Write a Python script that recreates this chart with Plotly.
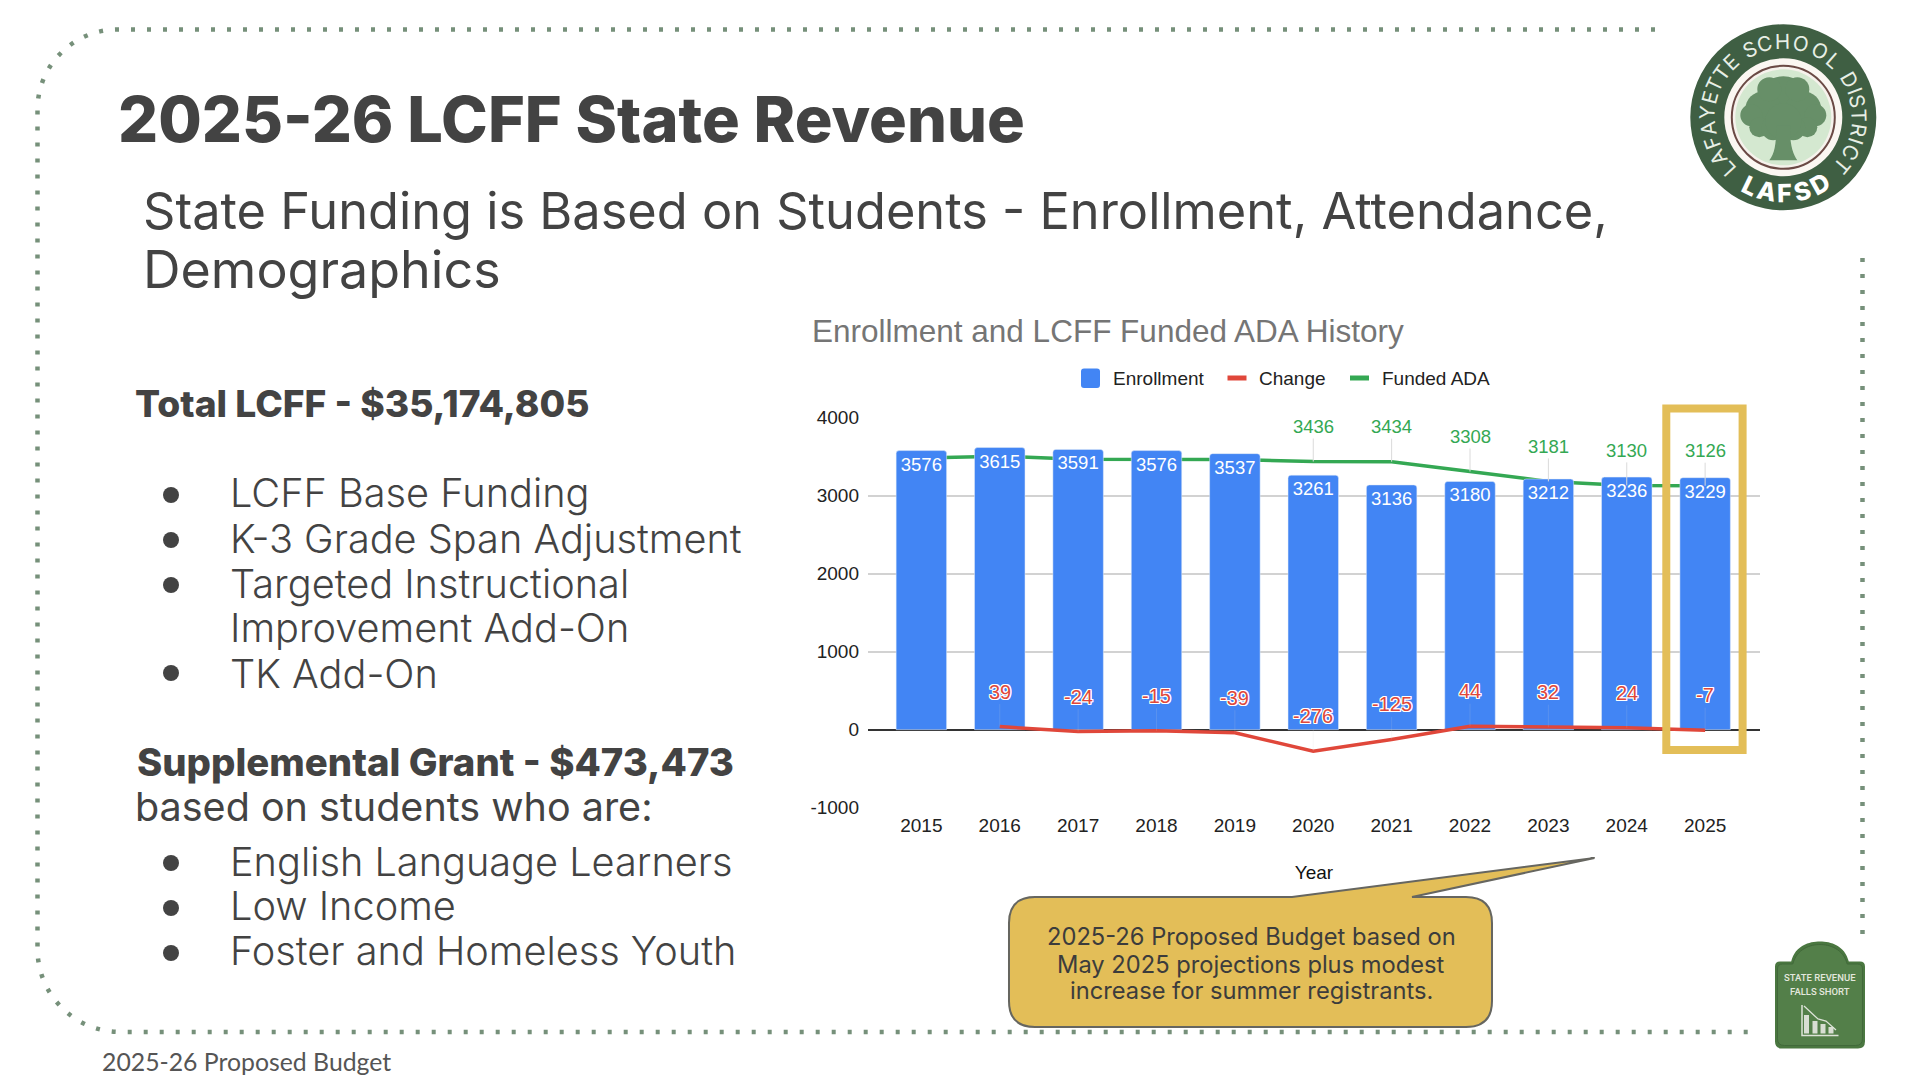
import math
import plotly.graph_objects as go

# ---------- data ----------
years = ["2015","2016","2017","2018","2019","2020","2021","2022","2023","2024","2025"]
enrollment = [3576,3615,3591,3576,3537,3261,3136,3180,3212,3236,3229]
change = [None,39,-24,-15,-39,-276,-125,44,32,24,-7]
funded_ada = [3480,3505,3465,3468,3462,3436,3434,3308,3181,3130,3126]
funded_label_years = ["2020","2021","2022","2023","2024","2025"]
y_ticks = [-1000,0,1000,2000,3000,4000]
y_tick_labels = ["-1000","0","1000","2000","3000","4000"]

W, H = 1920, 1080
def X(p): return p / W
def Y(p): return 1 - p / H

DARK = "#434343"
BLUE = "#4285F4"
RED = "#E0473A"
GREEN = "#34A853"
GOLD = "#E3BE58"
DOT = "#76907A"
LOGO = "#3F5F43"
SANS = "Liberation Sans"
BODY = "Inter"

annotations, shapes = [], []

def txt(x, y, s, size, color=DARK, family=BODY, anchor="left", weight=None, angle=0):
    f = dict(family=family, size=size, color=color)
    if weight: f["weight"] = weight
    annotations.append(dict(x=X(x), y=Y(y), xref="paper", yref="paper", text=s, showarrow=False,
                            xanchor=anchor, yanchor="middle", font=f, textangle=angle,
                            borderpad=0, borderwidth=0))

def path(cmds, fill=None, line=None, width=0, dash=None, layer="above"):
    out = []
    for c in cmds:
        if isinstance(c, str):
            out.append(c)
        else:
            out.append(" ".join(f"{X(c[i]):.5f},{Y(c[i+1]):.5f}" for i in range(0, len(c), 2)))
    ln = dict(width=width, color=line or "rgba(0,0,0,0)")
    if dash: ln["dash"] = dash
    d = dict(type="path", xref="paper", yref="paper", path=" ".join(out), line=ln, layer=layer)
    if fill: d["fillcolor"] = fill
    shapes.append(d)

def circle(cx, cy, r, fill=None, line=None, width=0):
    shapes.append(dict(type="circle", xref="paper", yref="paper", x0=X(cx-r), x1=X(cx+r),
                       y0=Y(cy+r), y1=Y(cy-r), fillcolor=fill or "rgba(0,0,0,0)",
                       line=dict(width=width, color=line or "rgba(0,0,0,0)")))

# ---------- dotted frame ----------
k = 0.5523
dash = "4px,12px"
lx, ty, by, r1, r2 = 37.5, 29.5, 1032, 80, 83
path(["M", (1655, ty), "L", (lx+r1, ty), "C", (lx+r1-k*r1, ty, lx, ty+r1-k*r1, lx, ty+r1),
      "L", (lx, by-r2), "C", (lx, by-r2+k*r2, lx+r2-k*r2, by, lx+r2, by), "L", (1756, by)],
     line=DOT, width=4.5, dash=dash, layer="below")
path(["M", (1862.5, 258), "L", (1862.5, 936)], line=DOT, width=4.5, dash=dash, layer="below")

# ---------- slide text ----------
txt(118, 119, "2025-26 LCFF State Revenue", 63, family="Inter", weight=800)
txt(143, 210.5, "State Funding is Based on Students - Enrollment, Attendance,", 50.5)
txt(143, 269, "Demographics", 52)
txt(135, 404, "Total LCFF - $35,174,805", 37.2, weight=800)
txt(137, 762, "Supplemental Grant - $473,473", 38.3, weight=800)
txt(135, 807, "based on students who are:", 39.5)
for yy, s in [(493.5,"LCFF Base Funding"),(539,"K-3 Grade Span Adjustment"),(584,"Targeted Instructional"),
              (628,"Improvement Add-On"),(673.5,"TK Add-On"),
              (862,"English Language Learners"),(906,"Low Income"),(951,"Foster and Homeless Youth")]:
    txt(230, yy, s, 39.7, weight=300)
for yy in [495, 540, 585, 673, 863, 908, 953]:
    circle(171, yy, 8, fill="#434343")
txt(101.5, 1061.5, "2025-26 Proposed Budget", 24.8, family="Lato", color="#555555")

# ---------- chart heading and legend ----------
txt(812, 331, "Enrollment and LCFF Funded ADA History", 31.5, color="#757575", family=SANS)
path(["M", (1084, 368.5), "L", (1097, 368.5), "Q", (1100, 368.5, 1100, 371.5), "L", (1100, 385),
      "Q", (1100, 388, 1097, 388), "L", (1084, 388), "Q", (1081, 388, 1081, 385), "L", (1081, 371.5),
      "Q", (1081, 368.5, 1084, 368.5), "Z"], fill=BLUE)
txt(1112.5, 378, "Enrollment", 19, color="#222222", family=SANS)
shapes.append(dict(type="rect", xref="paper", yref="paper", x0=X(1227.5), x1=X(1246.5), y0=Y(380.5), y1=Y(375.5),
                   fillcolor=RED, line=dict(width=0)))
txt(1259, 378, "Change", 19, color="#222222", family=SANS)
shapes.append(dict(type="rect", xref="paper", yref="paper", x0=X(1350), x1=X(1369), y0=Y(380.5), y1=Y(375.5),
                   fillcolor=GREEN, line=dict(width=0)))
txt(1381.5, 378, "Funded ADA", 19, color="#222222", family=SANS)

# ---------- highlight box ----------
shapes.append(dict(type="rect", xref="paper", yref="paper", x0=X(1666.3), x1=X(1742.6),
                   y0=Y(750), y1=Y(408.5), line=dict(color=GOLD, width=8)))

# ---------- callout ----------
L, R, T, B, r = 1009, 1492, 897, 1027, 26
path(["M", (L+r, T), "L", (1292, T), "L", (1594.5, 858), "L", (1412, T), "L", (R-r, T),
      "Q", (R, T, R, T+r), "L", (R, B-r), "Q", (R, B, R-r, B), "L", (L+r, B),
      "Q", (L, B, L, B-r), "L", (L, T+r), "Q", (L, T, L+r, T), "Z"],
     fill=GOLD, line="#666660", width=2)
for yy, s in [(936.5,"2025-26 Proposed Budget based on"),(964,"May 2025 projections plus modest"),
              (990.5,"increase for summer registrants.")]:
    txt(1251, yy, s, 23.7, anchor="center", color="#3C3C3C")

# ---------- logo ----------
cx, cy = 1783.3, 117.3
circle(cx, cy, 93, fill=LOGO)
circle(cx, cy, 59, fill="#FBF7F2")
circle(cx, cy, 51.5, fill="#F6F2EC", line="#6B4A45", width=2)
circle(cx, cy, 48, fill="#D4E8D0")
for ox, oy, rr in [(0,-14,27),(-20,-8,18),(20,-8,18),(-32,-2,11),(32,-2,11),(-14,-28,12),(14,-28,12),
                   (-24,10,10),(24,10,10),(-10,11,12),(10,11,12),(0,4,18)]:
    circle(cx+ox, cy+oy, rr, fill="#678F68")
path(["M", (cx-7, cy+8), "L", (cx+7, cy+8), "C", (cx+6, cy+28, cx+10, cy+37, cx+14, cy+43),
      "L", (cx-14, cy+43), "C", (cx-9, cy+37, cx-7, cy+28, cx-7, cy+8), "Z"], fill="#678F68")
ring = "LAFAYETTE SCHOOL DISTRICT"
wid = {"I":0.45, " ":0.6, "L":0.85, "T":0.9, "E":0.85, "F":0.85, "S":0.9, "O":1.3, "C":1.15, "H":1.1, "D":1.15, "A":1.1, "Y":1.0, "R":1.0}
tot = sum(wid[c] for c in ring)
a0, a1 = -138.0, 135.0
acc = 0.0
for c in ring:
    w_ = wid[c]
    th = a0 + (a1-a0) * (acc + w_/2) / tot
    acc += w_
    if c != " ":
        txt(cx + 76*math.sin(math.radians(th)), cy - 76*math.cos(math.radians(th)), c, 20.5,
            color="#E8EFE6", anchor="center", angle=th)
for c, ph in zip("LAFSD", [205.7, 192.5, 179, 165, 151]):
    txt(cx + 76*math.sin(math.radians(ph)), cy - 76*math.cos(math.radians(ph)), c, 25,
        color="#FFFFFF", anchor="center", weight=800, angle=ph-180)

# ---------- badge ----------
def badge(l, r, t, b, top, fill, line=None, width=0):
    m = (l+r)/2
    d = (r-l)*0.32
    path(["M", (l+5, t), "L", (m-d, t), "C", (m-d+4, top+4, m-d+18, top, m, top),
          "C", (m+d-18, top, m+d-4, top+4, m+d, t), "L", (r-5, t), "Q", (r, t, r, t+5),
          "L", (r, b-7), "Q", (r, b, r-7, b), "L", (l+7, b), "Q", (l, b, l, b-7), "L", (l, t+5),
          "Q", (l, t, l+5, t), "Z"], fill=fill, line=line, width=width)
badge(1775, 1865, 961.5, 1048.5, 941.5, "#4A7740")
badge(1777.5, 1862.5, 964, 1045.5, 944.5, "#537F49", line="#41693A", width=1)
txt(1820, 977, "STATE REVENUE", 9.5, color="#E3E8DE", family="Roboto", anchor="center", weight=500)
txt(1820, 991.5, "FALLS SHORT", 9.5, color="#E3E8DE", family="Roboto", anchor="center", weight=500)
path(["M", (1802, 1005), "L", (1802, 1035.5), "L", (1838.5, 1035.5)], line="#DDE3D8", width=1.5)
for bx, bt in [(1806.5,1015),(1815,1021),(1823,1024),(1831,1027)]:
    path(["M", (bx-2.5, 1033.5), "L", (bx-2.5, bt), "L", (bx+2.5, bt), "L", (bx+2.5, 1033.5), "Z"], fill="#D8DED3")
path(["M", (1804, 1006), "L", (1818, 1019), "L", (1826, 1021), "L", (1836, 1030)], line="#DDE3D8", width=1.3)

# ---------- data labels (offset from their points with the library's own leader lines) ----------
for i, (yr, v) in enumerate(zip(years, funded_ada)):
    if yr in funded_label_years:
        annotations.append(dict(x=i, y=v, xref="x", yref="y", text=str(v), showarrow=True, arrowhead=0,
                                arrowwidth=1, arrowcolor="#DADADA", ax=0, ay=-35, standoff=0,
                                font=dict(family=SANS, size=18.5, color=GREEN)))
for i, v in enumerate(change):
    if v is not None:
        annotations.append(dict(x=i, y=v, xref="x", yref="y", text=str(v), showarrow=True, arrowhead=0,
                                arrowwidth=1, arrowcolor="rgba(215,215,215,0.15)", ax=0, ay=-35, standoff=0,
                                font=dict(family=SANS, size=20, color=RED,
                                          shadow="1px 0 0 #fff,-1px 0 0 #fff,0 1px 0 #fff,0 -1px 0 #fff,1px 1px 0 #fff,-1px -1px 0 #fff,1px -1px 0 #fff,-1px 1px 0 #fff")))

# ---------- traces ----------
fig = go.Figure()
fig.add_trace(go.Scatter(x=years, y=funded_ada, name="Funded ADA", mode="lines", showlegend=False,
                         line=dict(color=GREEN, width=3.5), xaxis="x", yaxis="y", hoverinfo="skip"))
fig.add_trace(go.Bar(x=years, y=enrollment, name="Enrollment", marker_color=BLUE, showlegend=False,
                     text=[str(v) for v in enrollment], textposition="inside", insidetextanchor="end",
                     textangle=0, textfont=dict(family=SANS, size=18.5, color="white"),
                     constraintext="none", xaxis="x2", yaxis="y2", hoverinfo="skip"))
fig.add_trace(go.Scatter(x=years, y=change, name="Change", mode="lines", showlegend=False,
                         line=dict(color=RED, width=3.5), xaxis="x2", yaxis="y2", hoverinfo="skip"))

x_dom = [X(868), X(1760)]
y_dom = [Y(807.7), Y(417.5)]
x_rng = [-0.681, 10.70]
y_rng = [-1000, 4000]

fig.update_layout(
    width=W, height=H, margin=dict(l=0, r=0, t=0, b=0, autoexpand=False), autosize=False,
    paper_bgcolor="white", plot_bgcolor="white",
    bargap=0.356, barcornerradius=3,
    shapes=shapes, annotations=annotations,
    showlegend=False,
    xaxis=dict(domain=x_dom, range=x_rng, type="category", categoryorder="array", categoryarray=years,
               tickfont=dict(family=SANS, size=19, color="#222222"), showgrid=False, ticks="",
               zeroline=False, showline=False, ticklabelstandoff=4,
               title=dict(text="Year", font=dict(family=SANS, size=19, color="#111111"), standoff=30)),
    yaxis=dict(domain=y_dom, range=y_rng, tickvals=y_ticks, ticktext=y_tick_labels,
               tickfont=dict(family=SANS, size=19, color="#222222"), ticklabelstandoff=8,
               gridcolor="#D2D2D2", gridwidth=1.5, zeroline=True, zerolinecolor="#333333", zerolinewidth=1.5,
               ticks="", showline=False),
    xaxis2=dict(overlaying="x", range=x_rng, type="category", categoryorder="array", categoryarray=years,
                visible=False),
    yaxis2=dict(overlaying="y", range=y_rng, visible=False),
)

fig.write_html("out.html", config={"displayModeBar": False},
               post_script="document.body.style.margin='0';document.body.style.overflow='hidden';")
